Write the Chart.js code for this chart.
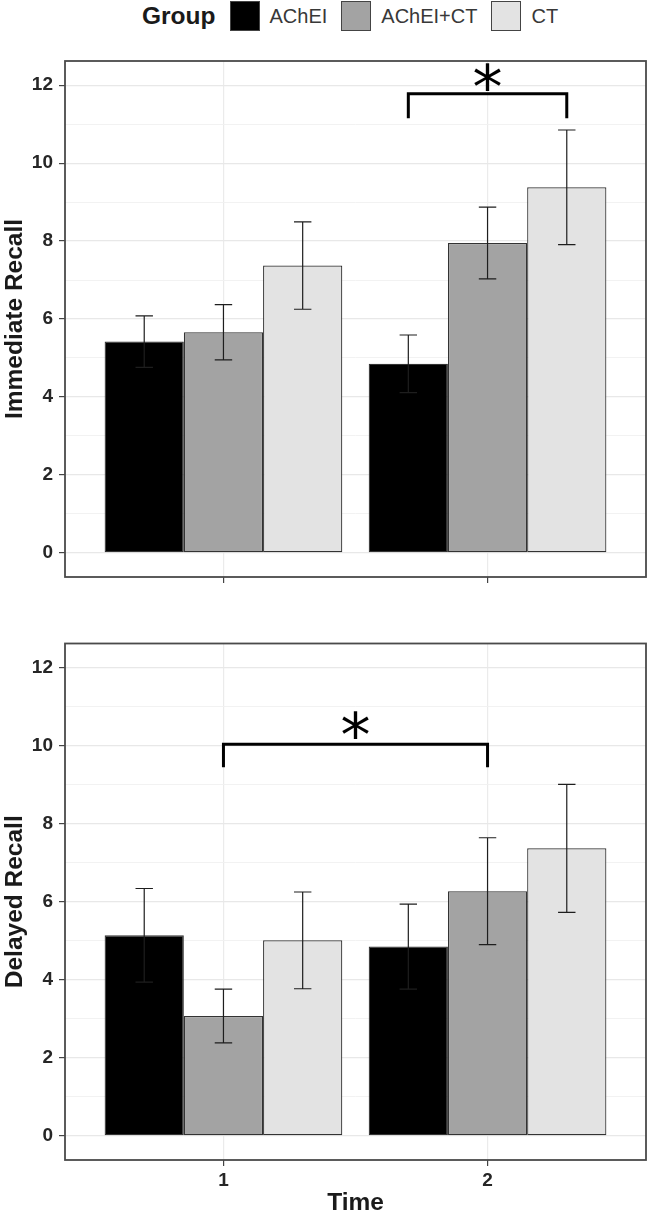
<!DOCTYPE html>
<html>
<head>
<meta charset="utf-8">
<script src="https://cdn.jsdelivr.net/npm/chart.js@4.4.0/dist/chart.umd.min.js"></script>
<style>
    body { margin: 0; background: #fff; width: 649px; height: 1218px; position: relative; overflow: hidden;
           font-family: "Liberation Sans", Arial, sans-serif; }
    #legend { position: absolute; left: 142px; top: 1px; height: 30px; display: flex; align-items: center;
              color: #383838; font-size: 20px; }
    #legend .title { font-weight: bold; font-size: 24.5px; color: #1a1a1a; margin-right: 14px; }
    #legend .key { width: 28px; height: 28px; border: 1.5px solid #444; margin-right: 10px; }
    #legend .lab { margin-right: 14px; }
    #wrap1 { position: absolute; left: 0; top: 40px; width: 649px; height: 560px; }
    #wrap2 { position: absolute; left: 0; top: 610px; width: 649px; height: 608px; }
</style>
</head>
<body>
<div id="legend"></div>
<div id="wrap1"><canvas id="immediate-recall"></canvas></div>
<div id="wrap2"><canvas id="delayed-recall"></canvas></div>
<script>
const groups = ['AChEI', 'AChEI+CT', 'CT'];
const groupColors = ['#000000', '#a3a3a3', '#e3e3e3'];
const timePoints = [1, 2];
const yTicks = [0, 2, 4, 6, 8, 10, 12];
const yMinorTicks = [1, 3, 5, 7, 9, 11];

// means per group, one value per time point
const immediateAChEI = [5.42, 4.85];
const immediateAChEICT = [5.66, 7.95];
const immediateCT = [7.37, 9.38];
const immediateErrAChEI = [0.66, 0.74];
const immediateErrAChEICT = [0.71, 0.92];
const immediateErrCT = [1.12, 1.47];

const delayedAChEI = [5.14, 4.85];
const delayedAChEICT = [3.07, 6.27];
const delayedCT = [5.01, 7.37];
const delayedErrAChEI = [1.20, 1.09];
const delayedErrAChEICT = [0.69, 1.37];
const delayedErrCT = [1.24, 1.64];

// significance brackets: [group, time index] of both ends, bracket height, leg end, star height
const immediateSig = { from: [0, 1], to: [2, 1], y: 11.78, drop: 11.15, star: 12.22 };
const delayedSig = { from: [1, 0], to: [1, 1], y: 10.04, drop: 9.45, star: 10.52 };

const fontFamily = '"Liberation Sans", Arial, sans-serif';

// html legend
const legend = document.getElementById('legend');
legend.innerHTML = '<span class="title">Group</span>' + groups.map((g, i) =>
    `<span class="key" style="background:${groupColors[i]}"></span><span class="lab">${g}</span>`).join('');

const errorBars = {
    id: 'errorBars',
    afterDatasetsDraw(chart, args, opts) {
        const ctx = chart.ctx;
        const y = chart.scales.y;
        ctx.save();
        ctx.strokeStyle = '#1e1e1e';
        ctx.lineWidth = 1.2;
        opts.errors.forEach((errs, i) => {
            const meta = chart.getDatasetMeta(i);
            meta.data.forEach((bar, j) => {
                const mean = chart.data.datasets[i].data[j].y;
                const top = y.getPixelForValue(mean + errs[j]);
                const bottom = y.getPixelForValue(mean - errs[j]);
                const half = bar.width * 0.11;
                ctx.beginPath();
                ctx.moveTo(bar.x, top); ctx.lineTo(bar.x, bottom);
                ctx.moveTo(bar.x - half, top); ctx.lineTo(bar.x + half, top);
                ctx.moveTo(bar.x - half, bottom); ctx.lineTo(bar.x + half, bottom);
                ctx.stroke();
            });
        });
        ctx.restore();
    }
};

const frameAndSig = {
    id: 'frameAndSig',
    afterDraw(chart, args, opts) {
        const ctx = chart.ctx;
        const area = chart.chartArea;
        const y = chart.scales.y;
        ctx.save();
        ctx.strokeStyle = '#4a4a4a';
        ctx.lineWidth = 1.8;
        ctx.strokeRect(area.left, area.top, area.right - area.left, area.bottom - area.top);

        const sig = opts.sig;
        const x1 = chart.getDatasetMeta(sig.from[0]).data[sig.from[1]].x;
        const x2 = chart.getDatasetMeta(sig.to[0]).data[sig.to[1]].x;
        const yLine = y.getPixelForValue(sig.y);
        const yDrop = y.getPixelForValue(sig.drop);
        ctx.strokeStyle = '#000';
        ctx.lineWidth = 3;
        ctx.lineJoin = 'miter';
        ctx.beginPath();
        ctx.moveTo(x1, yDrop); ctx.lineTo(x1, yLine); ctx.lineTo(x2, yLine); ctx.lineTo(x2, yDrop);
        ctx.stroke();

        ctx.fillStyle = '#000';
        ctx.font = '60px "DejaVu Sans"';
        ctx.textAlign = 'center';
        ctx.textBaseline = 'alphabetic';
        const m = ctx.measureText('*');
        const cy = y.getPixelForValue(sig.star);
        ctx.fillText('*', (x1 + x2) / 2, cy + (m.actualBoundingBoxAscent - m.actualBoundingBoxDescent) / 2);
        ctx.restore();
    }
};

function recallChart(id, yTitle, means, errors, sig, showTime, padTop, xAxisHeight) {
    let ctx = document.getElementById(id).getContext('2d');
    let datasets = groups.map((g, i) => ({
        label: g,
        data: timePoints.map((t, j) => ({ x: t, y: means[i][j] })),
        backgroundColor: groupColors[i],
        borderColor: '#333',
        borderWidth: 1.2,
        borderSkipped: false,
        categoryPercentage: 0.9,
        barPercentage: 1
    }));

    return new Chart(ctx, {
        type: 'bar',
        data: { datasets: datasets },
        plugins: [errorBars, frameAndSig],
        options: {
            responsive: true,
            maintainAspectRatio: false,
            animation: false,
            layout: { padding: { top: padTop, right: 3, left: 0, bottom: 0 } },
            plugins: {
                legend: { display: false },
                tooltip: { enabled: false },
                errorBars: { errors: errors },
                frameAndSig: { sig: sig }
            },
            scales: {
                x: {
                    type: 'linear',
                    min: 0.4,
                    max: 2.6,
                    offset: false,
                    afterBuildTicks: s => { s.ticks = timePoints.map(v => ({ value: v })); },
                    afterFit: s => { s.height = xAxisHeight; },
                    border: { display: false },
                    grid: { offset: false, color: '#ebebeb', lineWidth: 1.2, tickLength: 6, tickColor: '#444' },
                    ticks: {
                        callback: v => showTime ? String(v) : '',
                        color: '#262626',
                        padding: 3,
                        maxRotation: 0,
                        font: { family: fontFamily, size: 19, weight: 'bold' }
                    },
                    title: {
                        display: showTime,
                        text: 'Time',
                        color: '#1a1a1a',
                        padding: 0,
                        font: { family: fontFamily, size: 24.5, weight: 'bold' }
                    }
                },
                y: {
                    min: -0.62,
                    max: 12.62,
                    afterBuildTicks: s => {
                        s.ticks = yTicks.concat(yMinorTicks).sort((a, b) => a - b).map(v => ({ value: v }));
                    },
                    afterFit: s => { s.width = 65; },
                    border: { display: false },
                    grid: {
                        color: c => yTicks.includes(c.tick.value) ? '#e8e8e8' : '#f0f0f0',
                        lineWidth: c => yTicks.includes(c.tick.value) ? 1.2 : 0.9,
                        tickLength: 6,
                        tickColor: c => yTicks.includes(c.tick.value) ? '#444' : 'rgba(0,0,0,0)'
                    },
                    ticks: {
                        callback: v => yTicks.includes(v) ? String(v) : '',
                        color: '#262626',
                        padding: 6,
                        autoSkip: false,
                        font: { family: fontFamily, size: 19, weight: 'bold' }
                    },
                    title: {
                        display: true,
                        text: yTitle,
                        color: '#1a1a1a',
                        padding: { top: 1, bottom: 0 },
                        font: { family: fontFamily, size: 24.5, weight: 'bold' }
                    }
                }
            }
        }
    });
}

recallChart('immediate-recall', 'Immediate Recall',
    [immediateAChEI, immediateAChEICT, immediateCT],
    [immediateErrAChEI, immediateErrAChEICT, immediateErrCT],
    immediateSig, false, 21, 23);

recallChart('delayed-recall', 'Delayed Recall',
    [delayedAChEI, delayedAChEICT, delayedCT],
    [delayedErrAChEI, delayedErrAChEICT, delayedErrCT],
    delayedSig, true, 33.5, 58);
</script>
</body>
</html>
